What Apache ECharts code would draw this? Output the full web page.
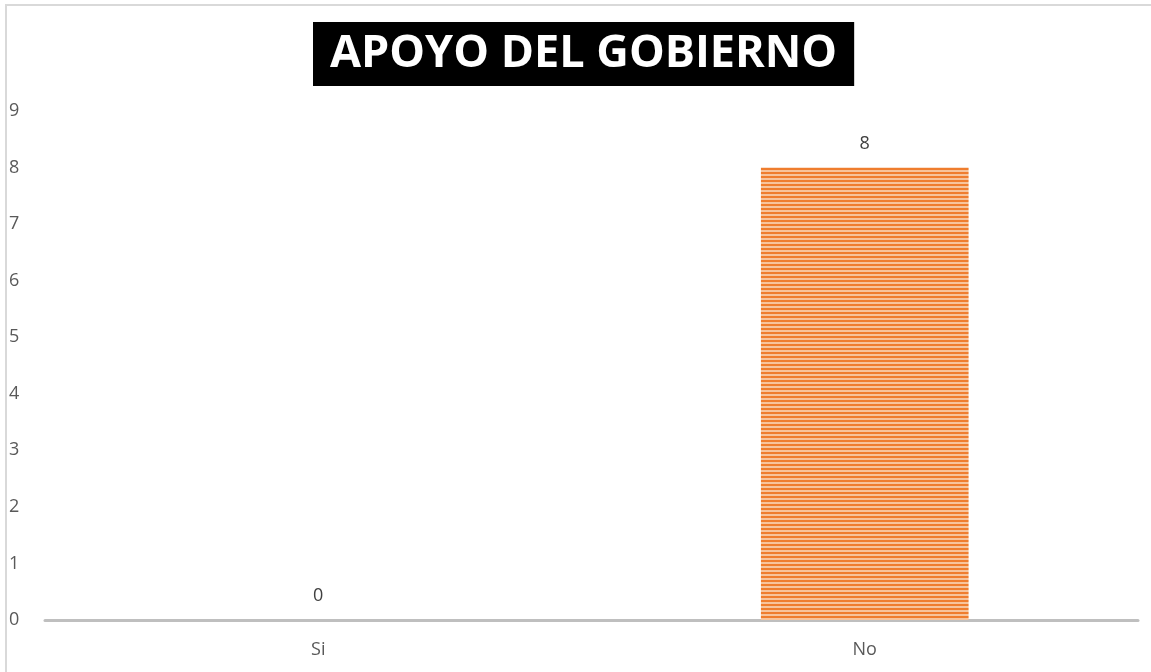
<!DOCTYPE html>
<html>
<head>
<meta charset="utf-8">
<script src="https://cdn.jsdelivr.net/npm/echarts@6/dist/echarts.min.js"></script>
<style>
  html, body { margin: 0; padding: 0; background: #fff; }
  #main { width: 1151px; height: 672px; }
</style>
</head>
<body>
<div id="main"></div>
<script>
;(function () {
  const categories = ['Si', 'No']
  const values = [0, 8]
  const title = 'APOYO DEL GOBIERNO'

  // striped fill like the office "narrow horizontal" pattern
  function stripes() {
    const c = document.createElement('canvas')
    c.width = 4
    c.height = 4
    const ctx = c.getContext('2d')
    ctx.fillStyle = '#f7c49c'
    ctx.fillRect(0, 0, 4, 4)
    ctx.fillStyle = '#ef7d2e'
    ctx.fillRect(0, 0, 4, 2)
    return c
  }

  const chart = echarts.init(document.getElementById('main'), null, { renderer: 'canvas' })

  chart.setOption({
    animation: false,
    textStyle: { fontFamily: 'Open Sans' },
    title: {
      text: title,
      left: 313,
      top: 22,
      backgroundColor: '#000',
      padding: [9, 17, 9, 17],
      textStyle: { color: '#fff', fontSize: 45, lineHeight: 46, fontWeight: 'bold', fontFamily: 'Open Sans' },
    },
    graphic: [
      {
        type: 'rect',
        shape: { x: 6, y: 5, width: 1200, height: 700 },
        style: { fill: 'none', stroke: '#d9d9d9', lineWidth: 2 },
        silent: true,
      },
    ],
    grid: { left: 45, right: 13, top: 111, bottom: 52 },
    xAxis: {
      type: 'category',
      data: categories,
      axisLine: { lineStyle: { color: '#bfbfbf', width: 3 } },
      axisTick: { show: false },
      axisLabel: { color: '#595959', fontSize: 18, margin: 21 },
    },
    yAxis: {
      type: 'value',
      min: 0,
      max: 9,
      interval: 1,
      splitLine: { show: false },
      axisLine: { show: false },
      axisLabel: { color: '#595959', fontSize: 18, align: 'left', margin: 36 },
    },
    series: [
      {
        type: 'bar',
        data: values,
        barWidth: '38%',
        itemStyle: { color: { image: stripes(), repeat: 'repeat' } },
        label: { show: true, position: 'top', distance: 15, color: '#404040', fontSize: 18 },
      },
    ],
  })
})()
</script>
</body>
</html>
